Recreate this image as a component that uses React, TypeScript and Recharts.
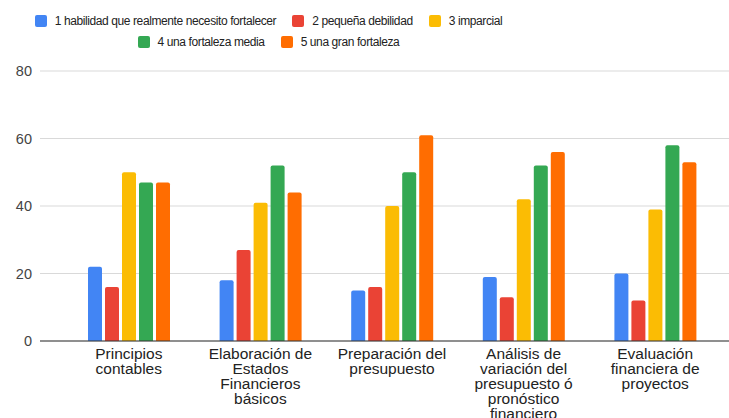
import { BarChart, Bar, XAxis, YAxis, CartesianGrid } from "recharts";

const categories = [
  "Principios\ncontables",
  "Elaboración de\nEstados\nFinancieros\nbásicos",
  "Preparación del\npresupuesto",
  "Análisis de\nvariación del\npresupuesto ó\npronóstico\nfinanciero",
  "Evaluación\nfinanciera de\nproyectos",
];

const seriesNames = [
  "1 habilidad que realmente necesito fortalecer",
  "2 pequeña debilidad",
  "3 imparcial",
  "4 una fortaleza media",
  "5 una gran fortaleza",
];

const seriesColors = ["#4285F4", "#EA4335", "#FBBC04", "#34A853", "#FF6D01"];

const s1 = [22, 18, 15, 19, 20];
const s2 = [16, 27, 16, 13, 12];
const s3 = [50, 41, 40, 42, 39];
const s4 = [47, 52, 50, 52, 58];
const s5 = [47, 44, 61, 56, 53];

const yTicks = [0, 20, 40, 60, 80];

const seriesValues = [s1, s2, s3, s4, s5];

const data = categories.map((name, i) => {
  const row: Record<string, string | number> = { name };
  seriesValues.forEach((vals, k) => {
    row[`s${k + 1}`] = vals[i];
  });
  return row;
});

const FONT = "'Liberation Sans', Arial, sans-serif";

function CategoryTick(props: any) {
  const { x, y, payload } = props;
  const lines = String(payload.value).split("\n");
  return (
    <text
      x={x}
      y={y - 1}
      textAnchor="middle"
      fontSize={15.5}
      fill="#222"
      fontFamily={FONT}
    >
      {lines.map((line, i) => (
        <tspan key={i} x={x} dy={i === 0 ? "0.71em" : 15}>
          {line}
        </tspan>
      ))}
    </text>
  );
}

function LegendRow({ items }: { items: number[] }) {
  return (
    <div style={{ display: "flex", justifyContent: "center", gap: 16, height: 21, alignItems: "center", whiteSpace: "nowrap" }}>
      {items.map((k) => (
        <div key={k} style={{ display: "flex", alignItems: "center" }}>
          <div
            style={{
              width: 12,
              height: 12,
              borderRadius: 2,
              background: seriesColors[k],
              marginRight: 8,
            }}
          />
          <span style={{ fontSize: 12, letterSpacing: -0.4, color: "#222", fontFamily: FONT }}>
            {seriesNames[k]}
          </span>
        </div>
      ))}
    </div>
  );
}

export default function App() {
  return (
    <div style={{ position: "absolute", left: 0, top: 0, width: 729, height: 418, background: "#fff" }}>
      <div style={{ position: "absolute", left: 0, top: 10, width: 537 }}>
        <LegendRow items={[0, 1, 2]} />
        <LegendRow items={[3, 4]} />
      </div>
      <BarChart
        width={729}
        height={418}
        data={data}
        margin={{ top: 71, right: 0, bottom: 0, left: 0 }}
        barSize={14}
        barGap={3}
        barCategoryGap={24}
      >
        <CartesianGrid vertical={false} stroke="#d9d9d9" />
        <XAxis
          dataKey="name"
          height={77}
          interval={0}
          tickLine={false}
          axisLine={{ stroke: "#333" }}
          padding={{ left: 23, right: 8 }}
          tick={<CategoryTick />}
        />
        <YAxis
          width={40}
          domain={[0, 80]}
          ticks={yTicks}
          axisLine={false}
          tickLine={false}
          tick={{ fontSize: 14.5, fill: "#444", fontFamily: FONT }}
        />
        {seriesNames.map((n, k) => (
          <Bar
            key={n}
            dataKey={`s${k + 1}`}
            name={n}
            fill={seriesColors[k]}
            radius={[2, 2, 0, 0]}
            isAnimationActive={false}
          />
        ))}
      </BarChart>
    </div>
  );
}
